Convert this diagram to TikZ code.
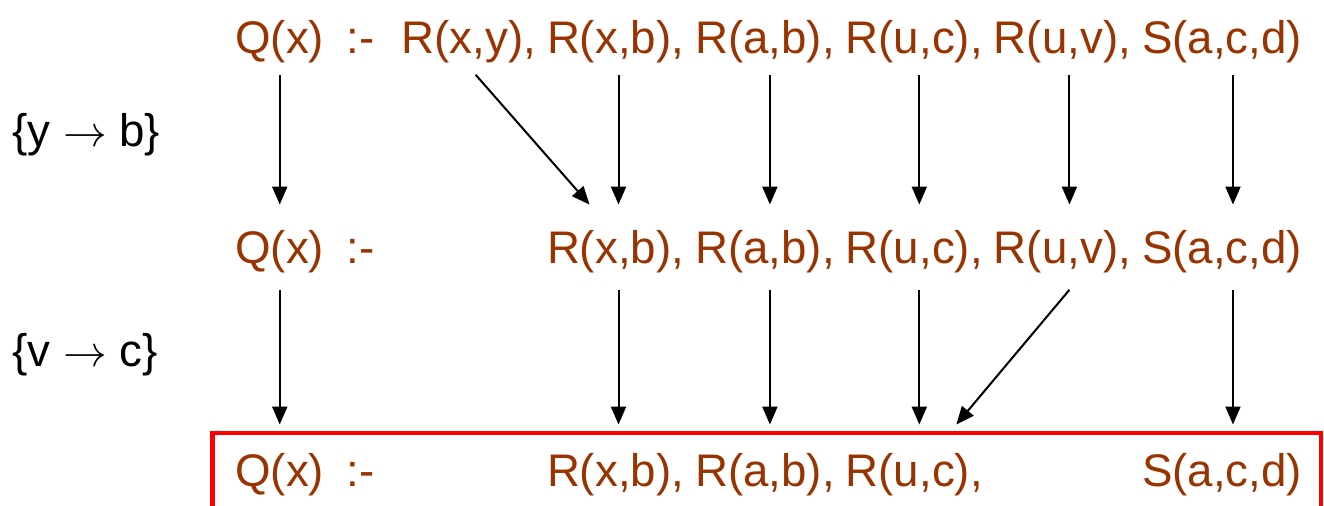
\documentclass[tikz,border=0pt]{standalone}
\usepackage{fontspec}
\setmainfont{Liberation Sans}
\usetikzlibrary{arrows.meta,positioning}
\definecolor{atomcol}{RGB}{153,51,0}

\begin{document}
\begin{tikzpicture}[x=0.02cm, y=-0.02cm, node distance=5.9pt,
  atom/.style={text=atomcol, inner sep=0pt, anchor=base west, font=\fontsize{26}{30}\selectfont},
  subst/.style={inner sep=0pt, anchor=west, font=\fontsize{26}{30}\selectfont},
  map/.style={-{Triangle[width=0.3cm,length=0.36cm]}, line width=1.15pt}]
  \useasboundingbox (0,0) rectangle (1324,506);
  % original query
  \node[atom] (q1) at (235,54) {Q(x)};
  \node[atom, base right=0.44cm of q1] (n1) {:-};
  \node[atom, base right=0.52cm of n1] (t1) {R(x,y),};
  \node[atom, base right=of t1] (t2) {R(x,b),};
  \node[atom, base right=of t2] (t3) {R(a,b),};
  \node[atom, base right=of t3] (t4) {R(u,c),};
  \node[atom, base right=of t4] (t5) {R(u,v),};
  \node[atom, base right=of t5] (t6) {S(a,c,d)};
  % after y -> b
  \node[atom] (q2) at (235,264) {Q(x)};
  \node[atom, base right=0.44cm of q2] (n2) {:-};
  \node[atom] (m2) at (t2.base west |- q2.base) {R(x,b),};
  \node[atom, base right=of m2] (m3) {R(a,b),};
  \node[atom, base right=of m3] (m4) {R(u,c),};
  \node[atom, base right=of m4] (m5) {R(u,v),};
  \node[atom, base right=of m5] (m6) {S(a,c,d)};
  % after v -> c
  \node[atom] (q3) at (235,486) {Q(x)};
  \node[atom, base right=0.44cm of q3] (n3) {:-};
  \node[atom] (b2) at (m2.base west |- q3.base) {R(x,b),};
  \node[atom, base right=of b2] (b3) {R(a,b),};
  \node[atom, base right=of b3] (b4) {R(u,c),};
  \node[atom] (b6) at (m6.base west |- q3.base) {S(a,c,d)};
  \draw[red, line width=2.8pt] (212.5,433) rectangle (1321,508.5);
  % substitutions
  \node[subst] (s1) at (12,135) {\{y $\rightarrow$ b\}};
  \node[subst] (s2) at (12,355) {\{v $\rightarrow$ c\}};
  % first step
  \draw[map] ([yshift=-0.22cm]q1.south) -- ([yshift=0.52cm]q1.south |- q2.north);
  \draw[map] ([xshift=0.14cm,yshift=-0.22cm]t1.south) -- ([xshift=-0.52cm,yshift=0.52cm]m2.north);
  \draw[map] ([xshift=0.06cm,yshift=-0.22cm]t2.south) -- ([xshift=0.06cm,yshift=0.52cm]t2.south |- m2.north);
  \draw[map] ([xshift=0.1cm,yshift=-0.22cm]t3.south) -- ([xshift=0.1cm,yshift=0.52cm]t3.south |- m3.north);
  \draw[map] ([xshift=0.1cm,yshift=-0.22cm]t4.south) -- ([xshift=0.1cm,yshift=0.52cm]t4.south |- m4.north);
  \draw[map] ([xshift=0.14cm,yshift=-0.22cm]t5.south) -- ([xshift=0.14cm,yshift=0.52cm]t5.south |- m5.north);
  \draw[map] ([xshift=0.22cm,yshift=-0.22cm]t6.south) -- ([xshift=0.22cm,yshift=0.52cm]t6.south |- m6.north);
  % second step
  \draw[map] ([yshift=-0.32cm]q2.south) -- ([yshift=0.56cm]q2.south |- q3.north);
  \draw[map] ([xshift=0.06cm,yshift=-0.32cm]m2.south) -- ([xshift=0.06cm,yshift=0.56cm]m2.south |- b2.north);
  \draw[map] ([xshift=0.1cm,yshift=-0.32cm]m3.south) -- ([xshift=0.1cm,yshift=0.56cm]m3.south |- b3.north);
  \draw[map] ([xshift=0.1cm,yshift=-0.32cm]m4.south) -- ([xshift=0.1cm,yshift=0.56cm]m4.south |- b4.north);
  \draw[map] ([xshift=0.14cm,yshift=-0.32cm]m5.south) -- ([xshift=0.84cm,yshift=0.56cm]b4.north);
  \draw[map] ([xshift=0.22cm,yshift=-0.32cm]m6.south) -- ([xshift=0.22cm,yshift=0.56cm]m6.south |- b6.north);
\end{tikzpicture}
\end{document}
